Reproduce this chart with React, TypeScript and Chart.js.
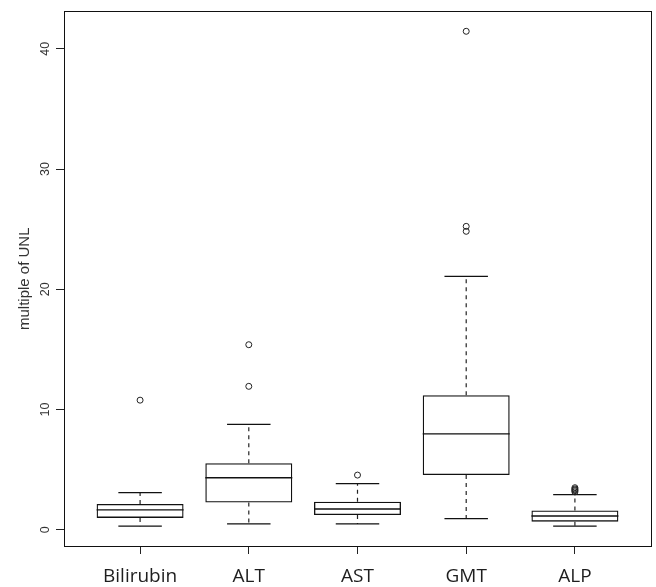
import React, { useEffect, useRef } from "react";
import { Chart, registerables } from "chart.js";

Chart.register(...registerables);

const categories = ["Bilirubin", "ALT", "AST", "GMT", "ALP"];
const lowerWhisker = [0.3, 0.49, 0.49, 0.93, 0.3];
const q1 = [0.99, 2.27, 1.23, 4.55, 0.68];
const median = [1.65, 4.33, 1.73, 7.98, 1.15];
const q3 = [2.14, 5.54, 2.33, 11.19, 1.61];
const upperWhisker = [3.1, 8.77, 3.84, 21.07, 2.93];
const outliers = [
  [10.78],
  [15.39, 11.93],
  [4.55],
  [41.45, 25.23, 24.82],
  [3.15, 3.25, 3.32, 3.4, 3.5],
];
const yTicks = [0, 10, 20, 30, 40];
const yTitle = "multiple of UNL";

const BOX_WIDTH = 0.8;
const STAPLE_HALF = 0.2;

const allValues = [...lowerWhisker, ...upperWhisker, ...outliers.flat()];
const dataMin = Math.min(...allValues);
const dataMax = Math.max(...allValues);
const yPad = (dataMax - dataMin) * 0.04;
const xPad = categories.length * 0.04;

const align = (p: number) => Math.round(p - 0.5) + 0.5;

const framePlugin = {
  id: "frame",
  afterDraw(chart: any) {
    const { ctx, chartArea } = chart;
    ctx.save();
    ctx.strokeStyle = "#111";
    ctx.lineWidth = 1;
    const l = align(chartArea.left);
    const t = align(chartArea.top);
    const r = align(chartArea.right);
    const b = align(chartArea.bottom);
    ctx.strokeRect(l, t, r - l, b - t);
    ctx.restore();
  },
};

export default function App() {
  const ref = useRef<HTMLCanvasElement>(null);
  useEffect(() => {
    if (!ref.current) return;
    const boxes = categories.map((_, i) => ({ x: i + 1, y: [q1[i], q3[i]] }));
    const medians: any[] = [];
    const whiskers: any[] = [];
    const staples: any[] = [];
    const outPts: any[] = [];
    categories.forEach((_, i) => {
      const c = i + 1;
      medians.push({ x: c - BOX_WIDTH / 2, y: median[i] }, { x: c + BOX_WIDTH / 2, y: median[i] }, { x: c, y: null });
      whiskers.push(
        { x: c, y: q3[i] }, { x: c, y: upperWhisker[i] }, { x: c, y: null },
        { x: c, y: q1[i] }, { x: c, y: lowerWhisker[i] }, { x: c, y: null }
      );
      staples.push(
        { x: c - STAPLE_HALF, y: upperWhisker[i] }, { x: c + STAPLE_HALF, y: upperWhisker[i] }, { x: c, y: null },
        { x: c - STAPLE_HALF, y: lowerWhisker[i] }, { x: c + STAPLE_HALF, y: lowerWhisker[i] }, { x: c, y: null }
      );
      outliers[i].forEach((v) => outPts.push({ x: c, y: v }));
    });

    const chart = new Chart(ref.current, {
      type: "bar",
      data: {
        datasets: [
          {
            type: "bar",
            data: boxes as any,
            backgroundColor: "rgba(255,255,255,0)",
            borderColor: "#111",
            borderWidth: 1.3,
            borderSkipped: false,
            barPercentage: BOX_WIDTH,
            categoryPercentage: 1,
            order: 5,
          } as any,
          {
            type: "line",
            data: whiskers,
            borderColor: "#222",
            borderWidth: 1.2,
            borderDash: [4, 4],
            pointRadius: 0,
            spanGaps: false,
            order: 4,
          } as any,
          {
            type: "line",
            data: staples,
            borderColor: "#111",
            borderWidth: 1.3,
            pointRadius: 0,
            spanGaps: false,
            order: 3,
          } as any,
          {
            type: "line",
            data: medians,
            borderColor: "#111",
            borderWidth: 1.3,
            pointRadius: 0,
            spanGaps: false,
            order: 1,
          } as any,
          {
            type: "scatter",
            data: outPts,
            pointStyle: "circle",
            pointRadius: 3,
            pointBackgroundColor: "rgba(255,255,255,0)",
            pointBorderColor: "#222",
            pointBorderWidth: 1,
            order: 0,
          } as any,
        ],
      },
      options: {
        animation: false,
        responsive: false,
        layout: { padding: { top: 5, right: 4, left: 0, bottom: 0 } },
        plugins: { legend: { display: false }, tooltip: { enabled: false } },
        scales: {
          x: {
            type: "linear",
            min: 0.5 - xPad,
            max: categories.length + 0.5 + xPad,
            offset: false,
            afterBuildTicks: (s: any) => {
              s.ticks = categories.map((_, i) => ({ value: i + 1 }));
            },
            afterFit: (s: any) => {
              s.height = 41;
            },
            ticks: {
              autoSkip: false,
              maxRotation: 0,
              minRotation: 0,
              padding: 11,
              color: "#1e1e1e",
              font: { family: "Open Sans", size: 19 },
              callback: (v: any) => categories[Math.round(v) - 1] ?? "",
            },
            grid: {
              display: true,
              drawOnChartArea: false,
              drawTicks: true,
              tickLength: 8,
              color: "#222",
              tickColor: "#222",
              tickWidth: 1,
              offset: false,
            },
            border: { display: true, color: "#111", width: 1 },
          },
          y: {
            type: "linear",
            min: dataMin - yPad,
            max: dataMax + yPad,
            afterBuildTicks: (s: any) => {
              s.ticks = yTicks.map((v) => ({ value: v }));
            },
            afterFit: (s: any) => {
              s.width = 64;
            },
            ticks: {
              minRotation: 90,
              maxRotation: 90,
              crossAlign: "center",
              padding: 4,
              color: "#333",
              font: { family: "Liberation Sans", size: 12.5 },
            },
            grid: {
              display: true,
              drawOnChartArea: false,
              drawTicks: true,
              tickLength: 8,
              color: "#222",
              tickColor: "#222",
              tickWidth: 1,
            },
            border: { display: true, color: "#111", width: 1 },
            title: {
              display: true,
              text: yTitle,
              color: "#333",
              font: { family: "Liberation Sans", size: 15 },
              padding: { top: 16, bottom: 0 },
            },
          },
        },
      } as any,
      plugins: [framePlugin],
    });
    return () => chart.destroy();
  }, []);
  return (
    <div style={{ position: "fixed", left: 0, top: 0, width: 656, height: 587, background: "#fff" }}>
      <canvas ref={ref} width={656} height={587} />
    </div>
  );
}
